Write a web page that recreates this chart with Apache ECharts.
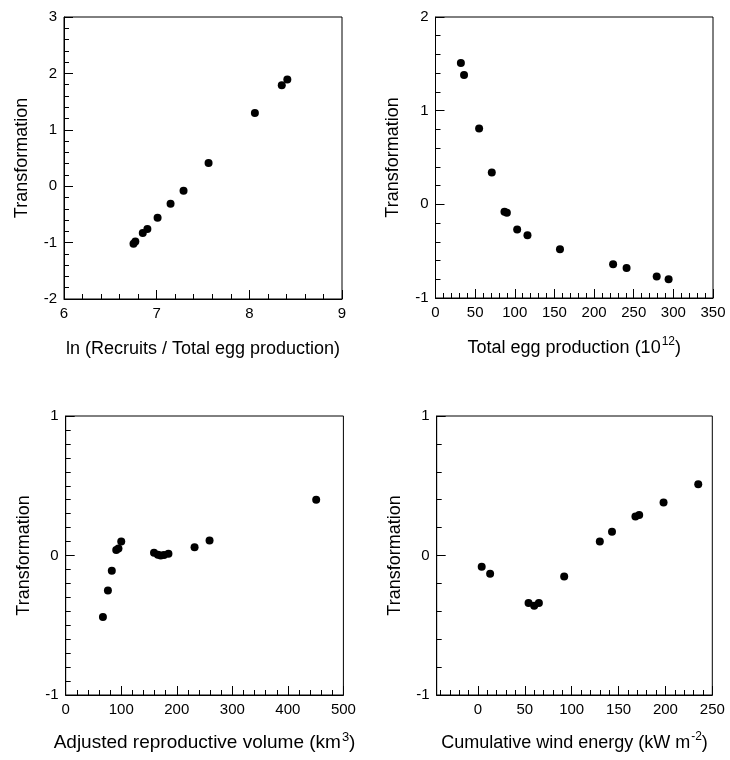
<!DOCTYPE html>
<html>
<head>
<meta charset="utf-8">
<script src="https://cdn.jsdelivr.net/npm/echarts@6/dist/echarts.min.js"></script>
<style>html,body{margin:0;padding:0;background:#fff;}#c{width:730px;height:760px;}</style>
</head>
<body>
<div id="c"></div>
<script>
// Panel 1: ln(Recruits / Total egg production)
const p1X = [6.75, 6.77, 6.85, 6.90, 7.01, 7.15, 7.29, 7.56, 8.06, 8.35, 8.41];
const p1Y = [-1.02, -0.98, -0.83, -0.76, -0.56, -0.31, -0.08, 0.41, 1.30, 1.79, 1.89];
// Panel 2: Total egg production (10^12)
const p2X = [32, 36, 55, 71, 87, 90, 103, 116, 157, 224, 241, 279, 294];
const p2Y = [1.51, 1.38, 0.81, 0.34, -0.08, -0.09, -0.27, -0.33, -0.48, -0.64, -0.68, -0.77, -0.80];
// Panel 3: Adjusted reproductive volume (km^3)
const p3X = [67, 76, 83, 91, 95, 100, 159, 166, 171, 177, 185, 232, 259, 451];
const p3Y = [-0.44, -0.25, -0.11, 0.04, 0.05, 0.10, 0.02, 0.005, 0.0, 0.003, 0.012, 0.06, 0.107, 0.40];
// Panel 4: Cumulative wind energy (kW m^-2)
const p4X = [4, 13, 54, 60, 65, 92, 130, 143, 168, 172, 198, 235];
const p4Y = [-0.08, -0.13, -0.34, -0.36, -0.34, -0.15, 0.10, 0.17, 0.28, 0.29, 0.38, 0.51];
const p4MajorTicks = [0, 50, 100, 150, 200, 250];
const p4MinorTicks = [-40, -30, -20, -10, 10, 20, 30, 40, 60, 70, 80, 90, 110, 120, 130, 140, 160, 170, 180, 190, 210, 220, 230, 240];

const FONT = '"Liberation Sans", Arial, Helvetica, sans-serif';
const pair = (xs, ys) => xs.map((x, i) => [x, ys[i]]);

function mkRich(size) {
  return {
    a: { fontSize: size, fontFamily: FONT, color: '#000', lineHeight: 24 },
    s: { fontSize: Math.round(size * 0.67), fontFamily: FONT, color: '#000', verticalAlign: 'top', padding: [0, 0, 0, 1] }
  };
}
const rich = mkRich(18);

const LINE = { show: true, onZero: false, lineStyle: { color: '#000', width: 1 } };

function xAx(grid, min, max, interval, split, name, gap, r) {
  return {
    type: 'value', gridIndex: grid, min: min, max: max, interval: interval,
    name: name, nameLocation: 'middle', nameGap: gap,
    nameTextStyle: { rich: r || rich },
    axisLine: LINE,
    axisTick: { show: true, inside: true, length: 9, lineStyle: { color: '#000' } },
    minorTick: { show: true, splitNumber: split, length: 5, lineStyle: { color: '#000' } },
    axisLabel: { color: '#000', fontSize: 15, fontFamily: FONT, margin: 7 },
    splitLine: { show: false }
  };
}
function yAx(grid, min, max, split) {
  return {
    type: 'value', gridIndex: grid, min: min, max: max, interval: 1,
    name: 'Transformation', nameLocation: 'middle', nameGap: 33,
    nameTextStyle: { color: '#000', fontSize: 18, fontFamily: FONT },
    axisLine: LINE,
    axisTick: { show: true, inside: true, length: 9, lineStyle: { color: '#000' } },
    minorTick: { show: true, splitNumber: split, length: 5, lineStyle: { color: '#000' } },
    axisLabel: { color: '#000', fontSize: 15, fontFamily: FONT, margin: 7 },
    splitLine: { show: false }
  };
}

const gridBase = { show: true, borderColor: '#000', borderWidth: 1, backgroundColor: 'transparent', containLabel: false };

const p4MajorAxis = {
  type: 'value', gridIndex: 3, min: -44, max: 250, position: 'bottom',
  name: '{a|Cumulative wind energy (kW m}{s|-2}{a|)}', nameLocation: 'middle', nameGap: 36,
  nameTextStyle: { rich: rich },
  axisLine: LINE,
  axisTick: { show: true, inside: true, length: 9, customValues: p4MajorTicks, lineStyle: { color: '#000' } },
  axisLabel: { color: '#000', fontSize: 15, fontFamily: FONT, margin: 7, customValues: p4MajorTicks },
  splitLine: { show: false }
};
const p4MinorAxis = {
  type: 'value', gridIndex: 3, min: -44, max: 250, position: 'bottom', offset: 0,
  axisLine: { show: false, onZero: false },
  axisTick: { show: true, inside: true, length: 5, customValues: p4MinorTicks, lineStyle: { color: '#000' } },
  axisLabel: { show: false },
  splitLine: { show: false }
};

const sym = { type: 'scatter', symbol: 'circle', symbolSize: 8, itemStyle: { color: '#000', opacity: 1 }, silent: true };

const option = {
  animation: false,
  backgroundColor: '#fff',
  grid: [
    Object.assign({ left: 64, top: 17, width: 278, height: 282 }, gridBase),
    Object.assign({ left: 435.5, top: 17, width: 277.5, height: 281 }, gridBase),
    Object.assign({ left: 65.7, top: 416, width: 277.7, height: 279 }, gridBase),
    Object.assign({ left: 436.7, top: 416, width: 275.6, height: 279 }, gridBase)
  ],
  xAxis: [
    xAx(0, 6, 9, 1, 5, '{a|ln (Recruits / Total egg production)}', 38),
    xAx(1, 0, 350, 50, 5, '{a|Total egg production (10}{s|12}{a|)}', 38),
    xAx(2, 0, 500, 100, 5, '{a|Adjusted reproductive volume (km}{s|3}{a|)}', 36, mkRich(19)),
    p4MajorAxis,
    p4MinorAxis
  ],
  yAxis: [
    yAx(0, -2, 3, 5),
    yAx(1, -1, 2, 5),
    yAx(2, -1, 1, 10),
    yAx(3, -1, 1, 5)
  ],
  series: [
    Object.assign({ xAxisIndex: 0, yAxisIndex: 0, data: pair(p1X, p1Y) }, sym),
    Object.assign({ xAxisIndex: 1, yAxisIndex: 1, data: pair(p2X, p2Y) }, sym),
    Object.assign({ xAxisIndex: 2, yAxisIndex: 2, data: pair(p3X, p3Y) }, sym),
    Object.assign({ xAxisIndex: 3, yAxisIndex: 3, data: pair(p4X, p4Y) }, sym)
  ]
};

const chart = echarts.init(document.getElementById('c'), null, { renderer: 'canvas' });
chart.setOption(option);
</script>
</body>
</html>
